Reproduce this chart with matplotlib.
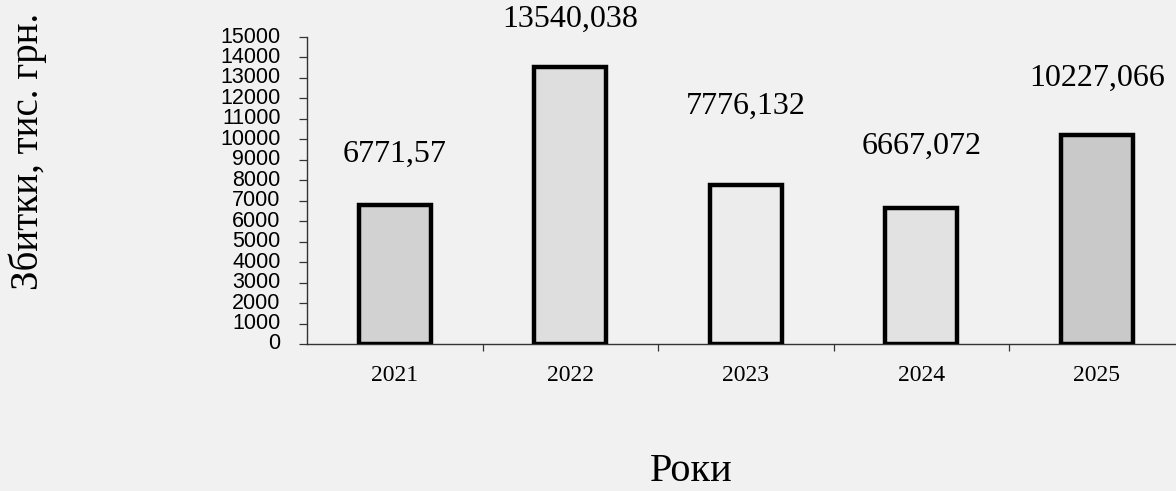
import matplotlib
matplotlib.use("Agg")
import matplotlib.pyplot as plt
import numpy as np

# ---------- data ----------
years = ["2021", "2022", "2023", "2024", "2025"]
losses = [6771.57, 13540.038, 7776.132, 6667.072, 10227.066]
value_labels = ["6771,57", "13540,038", "7776,132", "6667,072", "10227,066"]
y_ticks = list(range(0, 15001, 1000))

# styling per bar (scan shades and label gaps)
bar_colors = ["#d2d2d2", "#dedede", "#ececec", "#e2e2e2", "#c9c9c9"]
label_gaps = [26, 24, 46, 34, 30]   # points above bar top

bg = "#f1f1f1"
serif = ["Liberation Serif", "DejaVu Serif"]
sans = ["Liberation Sans", "DejaVu Sans"]

fig = plt.figure(figsize=(11.76, 4.91), dpi=100, facecolor=bg)
ax = fig.add_axes([0.261, 0.2994, 0.739, 0.6252], facecolor=bg)

x = np.arange(len(years))
bars = ax.bar(x, losses, width=0.41, color=bar_colors, edgecolor="black",
              linewidth=3.2, zorder=3)

# value labels above the bars
for rect, txt, gap in zip(bars, value_labels, label_gaps):
    ax.annotate(txt, (rect.get_x() + rect.get_width() / 2, rect.get_height()),
                xytext=(0, gap), textcoords="offset points",
                ha="center", va="bottom", fontsize=23, family=serif,
                annotation_clip=False)

ax.set_xlim(-0.5, 4.45)
ax.set_ylim(0, 15000)

# y axis
ax.set_yticks(y_ticks)
ax.set_yticklabels([str(v) for v in y_ticks], family=sans, fontsize=15.5)
ax.tick_params(axis="y", direction="out", length=6, width=0.9, pad=13,
               color="#333333")
for lbl in ax.get_yticklabels():
    lbl.set_verticalalignment("center")

# x axis: labels at centres, ticks at boundaries
ax.set_xticks(x)
ax.set_xticklabels(years, family=serif, fontsize=17)
ax.tick_params(axis="x", which="major", length=0, pad=15)
ax.set_xticks(np.arange(0.5, 4.0, 1.0), minor=True)
ax.tick_params(axis="x", which="minor", direction="out", length=5,
               width=0.9, color="#333333")

for side in ("top", "right"):
    ax.spines[side].set_visible(False)
for side in ("left", "bottom"):
    ax.spines[side].set_linewidth(1.0)
    ax.spines[side].set_color("#333333")

# axis titles
fig.text(0.024, 0.692, "Збитки, тис. грн.", rotation=90, ha="center",
         va="center", fontsize=28, family=serif)
fig.text(0.588, 0.002, "Роки", ha="center", va="bottom", fontsize=29,
         family=serif)

fig.savefig("out.png", dpi=100, facecolor=bg)
